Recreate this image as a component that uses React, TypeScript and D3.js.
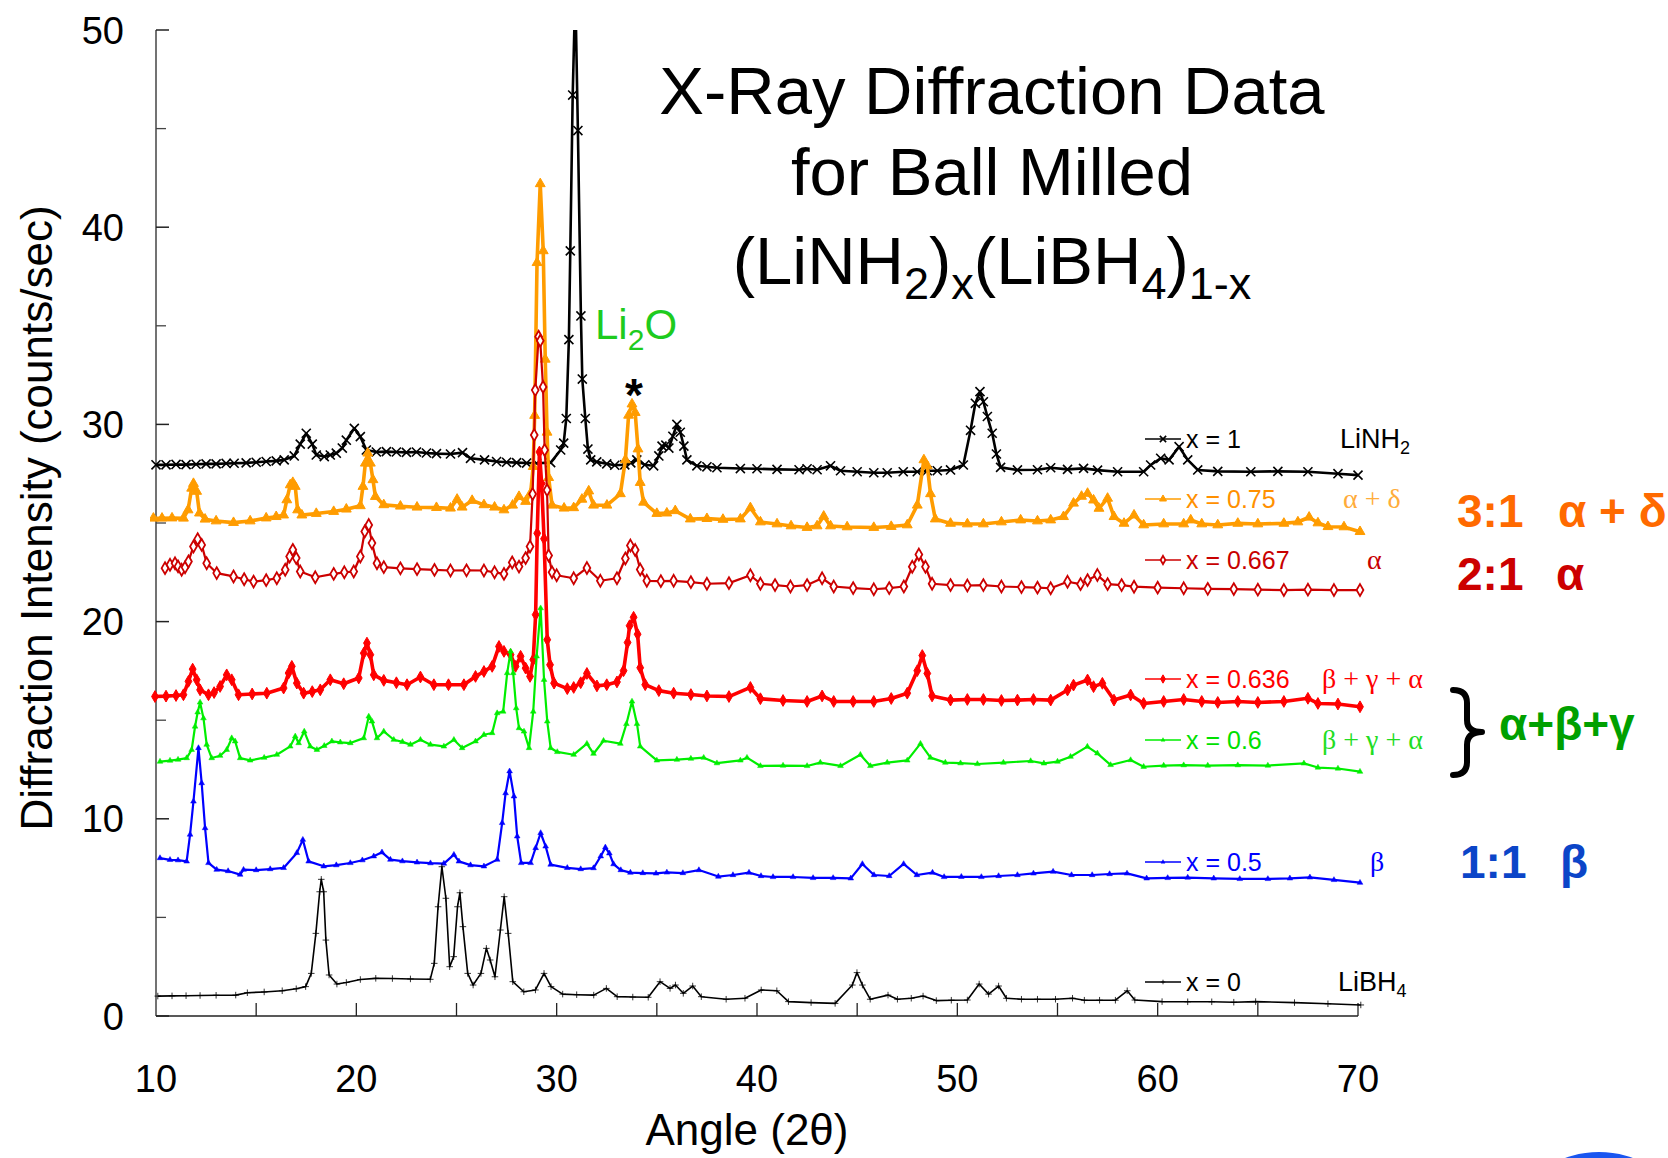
import React from 'react';
import * as d3 from 'd3';

type Pt = [number, number];

// angle (2θ), intensity (counts/sec)
const seriesX100: Pt[] = [[10.0,27.95],[10.5,27.95],[11.0,27.97],[11.5,27.96],[12.0,27.98],[12.5,28.0],[13.0,28.0],[13.5,28.02],[13.9,28.03],[14.5,28.05],[15.0,28.08],[15.5,28.12],[16.0,28.15],[16.4,28.2],[16.9,28.4],[17.2,29.0],[17.5,29.55],[17.8,29.0],[18.0,28.45],[18.4,28.37],[18.7,28.45],[19.0,28.54],[19.3,28.8],[19.5,29.2],[19.9,29.8],[20.2,29.38],[20.5,28.7],[21.0,28.6],[21.5,28.62],[22.0,28.6],[22.5,28.58],[23.0,28.6],[23.5,28.55],[24.0,28.52],[24.7,28.5],[25.3,28.57],[25.7,28.28],[26.4,28.2],[27.0,28.12],[27.5,28.08],[28.0,28.06],[28.5,28.04],[29.0,28.03],[29.7,28.06],[30.2,28.7],[30.35,29.05],[30.48,30.3],[30.61,34.3],[30.68,38.8],[30.8,46.7],[30.93,52.0],[31.06,44.9],[31.21,35.5],[31.28,32.3],[31.43,30.3],[31.56,28.75],[31.7,28.2],[32.0,28.1],[32.5,28.0],[32.9,27.93],[33.4,27.95],[33.7,28.05],[34.0,28.2],[34.4,27.95],[34.84,27.9],[35.1,28.4],[35.26,28.9],[35.45,28.95],[35.6,28.8],[35.8,29.4],[36.0,30.0],[36.17,29.6],[36.35,28.9],[36.5,28.2],[37.0,27.9],[37.5,27.85],[38.0,27.8],[39.17,27.76],[40.0,27.75],[41.0,27.72],[42.1,27.7],[42.5,27.75],[43.0,27.7],[43.67,27.9],[44.17,27.65],[45.0,27.6],[45.83,27.55],[46.5,27.55],[47.3,27.6],[48.0,27.6],[48.5,27.65],[49.0,27.65],[49.66,27.69],[50.3,27.94],[50.66,29.7],[50.9,31.07],[51.13,31.66],[51.3,31.15],[51.5,30.4],[51.74,29.55],[51.95,28.5],[52.16,27.82],[53.0,27.69],[54.0,27.7],[54.66,27.8],[55.5,27.72],[56.3,27.77],[57.0,27.68],[58.0,27.6],[59.3,27.6],[59.65,27.94],[60.15,28.28],[60.57,28.2],[61.07,28.87],[61.5,28.2],[62.0,27.69],[63.0,27.62],[64.65,27.6],[66.0,27.62],[67.5,27.6],[69.0,27.5],[70.0,27.43]];

const seriesX075: Pt[] = [[9.87,25.24],[10.3,25.24],[10.8,25.25],[11.37,25.24],[11.6,25.66],[11.78,26.76],[11.87,27.0],[12.03,26.6],[12.17,25.5],[12.45,25.19],[13.0,25.1],[13.87,25.02],[14.7,25.1],[15.5,25.25],[16.0,25.32],[16.37,25.4],[16.53,26.17],[16.7,26.93],[16.83,27.05],[16.95,26.85],[17.07,25.66],[17.28,25.4],[18.0,25.48],[18.87,25.58],[19.5,25.7],[20.2,25.87],[20.33,26.85],[20.45,28.03],[20.57,28.54],[20.7,28.03],[20.83,27.19],[20.95,26.34],[21.37,25.92],[22.2,25.85],[23.03,25.8],[24.0,25.78],[24.7,25.75],[25.03,26.2],[25.28,25.8],[25.78,26.14],[26.37,25.92],[26.9,25.8],[27.37,25.66],[27.8,25.9],[28.12,26.34],[28.45,26.09],[28.7,26.51],[28.83,27.86],[28.9,30.45],[29.02,38.2],[29.18,42.2],[29.33,38.8],[29.43,33.3],[29.52,29.6],[29.6,27.3],[29.77,25.9],[30.37,25.75],[30.85,25.77],[31.26,26.2],[31.6,26.62],[31.84,25.9],[32.51,25.9],[33.18,26.48],[33.43,28.2],[33.59,30.46],[33.76,31.03],[33.92,30.6],[34.06,28.75],[34.17,27.05],[34.34,26.05],[35.0,25.48],[35.5,25.5],[35.92,25.62],[36.67,25.2],[37.5,25.22],[38.3,25.18],[39.17,25.2],[39.67,25.77],[40.17,25.05],[41.0,24.95],[41.7,24.85],[42.5,24.77],[43.0,24.85],[43.33,25.34],[43.67,24.85],[44.5,24.8],[45.83,24.77],[46.7,24.82],[47.5,24.9],[48.0,25.9],[48.33,28.2],[48.5,27.9],[48.66,26.48],[48.9,25.2],[49.66,24.98],[50.5,24.95],[51.3,24.95],[52.2,25.05],[53.16,25.15],[54.0,25.1],[54.66,25.15],[55.3,25.32],[55.8,26.0],[56.2,26.35],[56.5,26.5],[56.8,26.16],[57.07,25.74],[57.5,26.25],[57.82,25.32],[58.32,24.98],[58.82,25.4],[59.3,24.9],[60.3,24.95],[61.3,24.95],[61.65,25.15],[62.2,24.95],[63.0,24.9],[64.0,24.98],[65.0,24.95],[66.3,24.98],[67.0,25.05],[67.56,25.29],[68.0,25.0],[68.5,24.81],[69.3,24.8],[70.1,24.56]];

const seriesX0667: Pt[] = [[10.45,22.71],[10.7,22.88],[10.95,22.96],[11.1,22.8],[11.28,22.63],[11.45,22.75],[11.62,23.05],[11.87,23.81],[12.08,24.18],[12.28,23.89],[12.53,22.96],[13.03,22.46],[13.87,22.29],[14.4,22.15],[14.87,22.03],[15.5,22.1],[16.03,22.2],[16.45,22.63],[16.67,23.3],[16.83,23.64],[17.0,23.22],[17.2,22.54],[17.95,22.25],[18.87,22.42],[19.4,22.5],[19.87,22.54],[20.2,23.3],[20.42,24.57],[20.62,24.9],[20.78,23.98],[21.03,22.96],[21.37,22.76],[22.2,22.7],[23.03,22.66],[23.9,22.62],[24.7,22.59],[25.5,22.6],[26.37,22.59],[26.9,22.5],[27.37,22.42],[27.78,23.0],[28.12,22.79],[28.45,23.22],[28.67,23.81],[28.8,26.47],[28.88,29.46],[28.93,31.74],[29.1,34.45],[29.18,34.24],[29.32,31.9],[29.4,28.7],[29.52,26.67],[29.6,23.35],[29.77,22.5],[30.0,22.35],[30.85,22.2],[31.51,22.72],[32.18,22.07],[33.01,22.2],[33.43,23.2],[33.68,23.86],[33.92,23.63],[34.17,22.64],[34.5,22.07],[35.2,22.05],[35.84,22.07],[36.7,22.0],[37.5,21.92],[38.6,21.95],[39.67,22.35],[40.17,21.92],[40.9,21.85],[41.67,21.78],[42.5,21.85],[43.25,22.2],[43.83,21.78],[44.8,21.7],[45.83,21.64],[46.6,21.7],[47.33,21.78],[47.75,22.78],[48.08,23.4],[48.41,22.78],[48.74,21.92],[49.66,21.85],[50.5,21.83],[51.3,21.85],[52.2,21.78],[53.2,21.75],[54.0,21.72],[54.66,21.69],[55.5,22.02],[56.15,21.9],[56.5,22.1],[56.99,22.36],[57.5,21.9],[58.2,21.85],[58.82,21.77],[60.0,21.72],[61.3,21.69],[62.5,21.66],[63.8,21.65],[65.0,21.62],[66.3,21.6],[67.5,21.62],[68.8,21.6],[70.1,21.6]];

const seriesX0636: Pt[] = [[9.95,16.2],[10.5,16.22],[11.0,16.25],[11.37,16.29],[11.62,16.97],[11.83,17.59],[12.03,17.05],[12.2,16.54],[12.62,16.29],[12.9,16.4],[13.2,16.71],[13.53,17.3],[13.78,17.05],[14.12,16.29],[14.8,16.33],[15.53,16.37],[16.37,16.63],[16.62,17.39],[16.78,17.73],[17.03,16.88],[17.37,16.37],[17.8,16.45],[18.2,16.54],[18.7,17.05],[19.37,16.85],[20.12,17.14],[20.37,18.4],[20.53,18.91],[20.7,18.32],[20.87,17.3],[21.37,17.02],[22.0,16.9],[22.53,16.8],[23.2,17.19],[23.87,16.8],[24.6,16.8],[25.37,16.8],[25.95,17.22],[26.37,17.47],[26.78,17.73],[27.12,18.74],[27.37,18.49],[27.7,18.32],[27.95,17.73],[28.2,18.24],[28.45,17.64],[28.67,17.22],[28.83,18.07],[28.95,20.35],[29.03,24.48],[29.14,28.6],[29.25,27.0],[29.37,24.2],[29.53,19.08],[29.67,17.81],[29.87,16.88],[30.53,16.6],[30.85,16.66],[31.2,16.9],[31.51,17.37],[32.01,16.74],[32.5,16.8],[33.01,16.94],[33.34,17.51],[33.54,18.94],[33.64,19.79],[33.84,20.22],[34.04,19.36],[34.17,17.66],[34.42,16.8],[35.1,16.5],[35.84,16.37],[36.7,16.3],[37.5,16.23],[38.6,16.2],[39.67,16.66],[40.17,16.09],[41.3,16.0],[42.5,15.95],[43.25,16.23],[43.83,15.95],[44.8,15.95],[45.83,15.95],[46.7,16.1],[47.5,16.37],[48.0,17.51],[48.25,18.28],[48.5,17.37],[48.74,16.23],[49.66,16.02],[50.5,16.05],[51.3,16.05],[52.2,16.0],[53.0,16.02],[53.8,16.05],[54.66,16.02],[55.5,16.53],[55.8,16.78],[56.5,17.04],[56.8,16.7],[57.24,16.87],[57.82,16.02],[58.65,16.28],[59.3,15.85],[60.3,15.95],[61.3,16.05],[62.2,15.95],[63.0,15.9],[64.0,15.95],[65.0,15.9],[66.3,15.95],[67.5,16.11],[68.0,15.85],[69.0,15.82],[70.1,15.68]];

const seriesX060: Pt[] = [[10.2,12.9],[10.7,12.95],[11.1,13.0],[11.53,13.08],[11.78,13.5],[11.95,14.68],[12.08,15.4],[12.2,15.9],[12.37,15.1],[12.53,13.76],[12.78,13.08],[13.2,13.2],[13.53,13.5],[13.78,14.09],[13.95,13.93],[14.2,13.08],[14.7,12.96],[15.4,13.1],[16.03,13.25],[16.7,13.67],[16.95,14.18],[17.12,13.84],[17.4,14.43],[17.7,13.67],[18.03,13.5],[18.4,13.7],[18.78,13.93],[19.2,13.88],[19.7,13.84],[20.37,14.09],[20.62,15.19],[20.78,14.94],[21.03,14.09],[21.37,14.43],[21.87,14.01],[22.3,13.9],[22.7,13.76],[23.2,14.01],[23.7,13.76],[24.37,13.67],[24.87,14.01],[25.28,13.59],[25.95,13.93],[26.37,14.26],[26.78,14.35],[27.03,15.36],[27.33,15.44],[27.53,17.39],[27.7,18.49],[27.83,17.39],[27.98,15.61],[28.12,14.6],[28.37,14.43],[28.62,13.59],[28.83,15.44],[29.0,18.24],[29.2,20.68],[29.37,17.05],[29.53,14.94],[29.7,13.59],[30.03,13.39],[30.85,13.25],[31.51,13.81],[31.84,13.3],[32.34,13.96],[33.18,13.81],[33.48,14.81],[33.76,15.95],[34.01,14.81],[34.17,13.67],[35.0,12.96],[36.0,13.0],[36.7,13.05],[37.34,13.1],[38.0,12.82],[39.17,12.96],[39.5,13.1],[40.17,12.68],[41.3,12.7],[42.5,12.68],[43.16,12.85],[44.17,12.68],[45.16,13.25],[45.66,12.68],[46.5,12.85],[47.5,12.96],[48.16,13.81],[48.66,13.1],[49.4,12.85],[50.16,12.82],[51.0,12.78],[52.3,12.85],[53.66,12.93],[54.32,12.81],[55.0,12.9],[55.65,13.15],[56.49,13.66],[56.99,13.32],[57.65,12.73],[58.65,12.98],[59.3,12.64],[60.3,12.7],[61.3,12.72],[62.5,12.7],[64.0,12.72],[65.5,12.7],[67.3,12.81],[68.0,12.6],[69.0,12.55],[70.1,12.39]];

const seriesX050: Pt[] = [[10.2,8.01],[10.7,7.92],[11.1,7.9],[11.53,7.84],[11.7,9.2],[11.87,10.88],[12.12,13.59],[12.28,11.81],[12.45,9.53],[12.62,7.76],[13.03,7.42],[13.6,7.35],[14.2,7.17],[14.37,7.42],[15.0,7.4],[15.7,7.45],[16.37,7.51],[17.03,8.27],[17.33,8.94],[17.62,7.84],[18.37,7.59],[19.0,7.65],[19.7,7.76],[20.3,7.9],[20.87,8.1],[21.28,8.3],[21.7,7.93],[22.3,7.85],[23.03,7.79],[23.7,7.75],[24.37,7.73],[24.87,8.18],[25.12,7.84],[25.7,7.65],[26.37,7.59],[27.03,7.93],[27.28,9.79],[27.45,11.3],[27.65,12.41],[27.87,11.14],[28.03,9.11],[28.23,7.76],[28.7,7.76],[28.95,8.52],[29.2,9.28],[29.45,8.6],[29.7,7.68],[30.53,7.51],[31.2,7.45],[31.84,7.5],[32.2,8.1],[32.43,8.55],[32.63,8.25],[32.84,7.7],[33.2,7.4],[33.68,7.27],[34.3,7.25],[34.96,7.23],[35.5,7.28],[36.3,7.25],[37.1,7.4],[38.07,7.07],[38.8,7.15],[39.6,7.27],[40.2,7.1],[40.8,7.05],[41.8,7.05],[42.8,7.0],[43.8,7.0],[44.68,6.98],[45.26,7.71],[45.84,7.15],[46.6,7.1],[47.32,7.71],[47.98,7.15],[48.76,7.27],[49.34,7.05],[50.2,7.06],[51.2,7.05],[52.06,7.1],[53.0,7.15],[53.8,7.23],[54.78,7.32],[55.7,7.15],[56.73,7.15],[57.6,7.2],[58.47,7.23],[59.45,6.98],[60.5,7.0],[61.5,7.02],[62.8,6.98],[64.1,6.95],[65.5,6.95],[66.6,6.98],[67.6,7.03],[68.8,6.9],[70.1,6.76]];

const seriesX000: Pt[] = [[10.09,1.01],[10.8,1.02],[11.5,1.03],[12.2,1.04],[13.0,1.05],[13.98,1.06],[14.56,1.18],[15.4,1.22],[16.3,1.28],[17.0,1.38],[17.47,1.49],[17.75,2.16],[17.98,4.19],[18.17,6.3],[18.25,6.93],[18.37,6.3],[18.48,3.85],[18.64,2.08],[19.03,1.62],[19.5,1.7],[20.2,1.85],[20.97,1.91],[21.8,1.9],[22.7,1.88],[23.69,1.86],[23.89,2.67],[24.08,5.54],[24.27,7.57],[24.47,5.97],[24.66,2.5],[24.86,3.01],[25.05,5.54],[25.17,6.25],[25.32,4.53],[25.56,2.16],[25.83,1.57],[26.22,2.16],[26.49,3.43],[26.68,2.84],[26.92,1.99],[27.19,4.36],[27.38,6.05],[27.58,4.19],[27.81,1.74],[28.36,1.23],[28.94,1.32],[29.37,2.16],[29.72,1.49],[30.3,1.11],[31.0,1.08],[31.85,1.06],[32.48,1.4],[33.02,0.98],[33.8,0.96],[34.57,0.95],[35.16,1.74],[35.66,1.4],[35.93,1.57],[36.32,1.15],[36.79,1.52],[37.22,0.98],[38.46,0.85],[39.4,0.9],[40.21,1.32],[40.99,1.28],[41.57,0.73],[42.7,0.68],[43.9,0.64],[44.76,1.57],[44.99,2.2],[45.26,1.57],[45.65,0.85],[46.54,1.06],[47.01,0.85],[47.7,0.9],[48.29,1.01],[48.95,0.78],[49.7,0.8],[50.5,0.81],[51.09,1.62],[51.56,1.11],[52.06,1.52],[52.45,0.9],[53.2,0.85],[54.0,0.85],[54.9,0.85],[55.75,0.9],[56.34,0.8],[57.1,0.8],[57.89,0.8],[58.48,1.28],[58.86,0.81],[60.22,0.73],[61.5,0.72],[62.7,0.72],[63.8,0.7],[64.89,0.73],[66.83,0.68],[68.5,0.62],[70.14,0.56]];

const legendLabels = ['x = 1', 'x = 0.75', 'x = 0.667', 'x = 0.636', 'x = 0.6', 'x = 0.5', 'x = 0'];
const phaseLabels = ['LiNH', 'α + δ', 'α', 'β + γ + α', 'β + γ + α', 'β', 'LiBH'];
const yTicks = [0, 10, 20, 30, 40, 50];
const yMinorTicks = [5, 15, 25, 35, 45];
const xTicks = [10, 20, 30, 40, 50, 60, 70];
const xMinorTicks = [15, 20, 25, 30, 35, 40, 45, 50, 55, 60, 65, 70];

const SANS = '"Liberation Sans", Arial, Helvetica, sans-serif';
const SERIF = '"Liberation Serif", "Times New Roman", serif';

export default function App() {
  const x = d3.scaleLinear().domain([10, 70]).range([156, 1358]);
  const y = d3.scaleLinear().domain([0, 50]).range([1016, 30]);
  const line = d3.line<Pt>().x((d) => x(d[0])).y((d) => y(d[1]));

  const styles = [
    { data: seriesX100, color: '#000000', lw: 2.6, sym: d3.symbolTimes, size: 55, fill: 'none', mstroke: '#000', mw: 1.6, legendY: 439, textColor: '#000', phaseColor: '#000', phaseX: 1340 },
    { data: seriesX075, color: '#FF9C00', lw: 3.6, sym: d3.symbolTriangle, size: 42, fill: '#FF9C00', mstroke: '#FF9C00', mw: 1, legendY: 499, textColor: '#FF9000', phaseColor: '#FFAC3A', phaseX: 1343 },
    { data: seriesX0667, color: '#CC0000', lw: 2.2, sym: d3.symbolDiamond, size: 40, fill: '#ffffff', mstroke: '#CC0000', mw: 1.8, legendY: 560, textColor: '#C80000', phaseColor: '#C80000', phaseX: 1367 },
    { data: seriesX0636, color: '#FF0000', lw: 3.6, sym: d3.symbolDiamond, size: 40, fill: '#FF0000', mstroke: '#FF0000', mw: 1, legendY: 679, textColor: '#FF0000', phaseColor: '#FF0000', phaseX: 1322 },
    { data: seriesX060, color: '#00EE00', lw: 2.2, sym: d3.symbolTriangle, size: 14, fill: '#00EE00', mstroke: '#00EE00', mw: 0.5, legendY: 740, textColor: '#00E000', phaseColor: '#22DD22', phaseX: 1322 },
    { data: seriesX050, color: '#0000FF', lw: 2.2, sym: d3.symbolTriangle, size: 14, fill: '#0000FF', mstroke: '#0000FF', mw: 0.5, legendY: 862, textColor: '#0000FF', phaseColor: '#0000FF', phaseX: 1370 },
    { data: seriesX000, color: '#000000', lw: 1.6, sym: d3.symbolPlus, size: 16, fill: '#000', mstroke: '#000', mw: 0.8, legendY: 982, textColor: '#000', phaseColor: '#000', phaseX: 1338 },
  ];

  const sym = (t: d3.SymbolType, s: number) => d3.symbol().type(t).size(s)() as string;

  return (
    <svg width={1668} height={1158} style={{ position: 'absolute', left: 0, top: 0, background: '#fff' }} fontFamily={SANS}>
      <rect x={0} y={0} width={1668} height={1158} fill="#fff" />
      <defs>
        <clipPath id="plotClip">
          <rect x={150} y={30} width={1220} height={990} />
        </clipPath>
      </defs>

      {/* axes */}
      <line x1={x(10)} x2={x(10)} y1={y(0)} y2={y(50)} stroke="#444" strokeWidth={1.5} />
      <line x1={x(10)} x2={x(70)} y1={y(0)} y2={y(0)} stroke="#222" strokeWidth={1.5} />
      {yTicks.map((t) => (
        <g key={'yt' + t}>
          <line x1={x(10)} x2={x(10) + 13} y1={y(t)} y2={y(t)} stroke="#222" strokeWidth={1.5} />
          <text x={124} y={y(t) + 13.5} textAnchor="end" fontSize={38} fill="#000">{t}</text>
        </g>
      ))}
      {yMinorTicks.map((t) => (
        <line key={'ym' + t} x1={x(10)} x2={x(10) + 10} y1={y(t)} y2={y(t)} stroke="#444" strokeWidth={1.3} />
      ))}
      {xMinorTicks.map((t) => (
        <line key={'xm' + t} x1={x(t)} x2={x(t)} y1={y(0)} y2={y(0) - 13} stroke="#222" strokeWidth={1.3} />
      ))}
      {xTicks.map((t) => (
        <text key={'xt' + t} x={x(t)} y={1092} textAnchor="middle" fontSize={38} fill="#000">{t}</text>
      ))}

      {/* axis titles */}
      <text transform="translate(52,518) rotate(-90)" textAnchor="middle" fontSize={44} fill="#000">Diffraction Intensity (counts/sec)</text>
      <text x={747} y={1145} textAnchor="middle" fontSize={44} fill="#000">Angle (2θ)</text>

      {/* series */}
      <g clipPath="url(#plotClip)">
        {styles.map((s, i) => (
          <g key={'s' + i}>
            <path d={line(s.data) as string} fill="none" stroke={s.color} strokeWidth={s.lw} strokeLinejoin="round" />
            {s.data.map((d, j) => (
              <path key={j} d={sym(s.sym, s.size)} transform={`translate(${x(d[0])},${y(d[1])})`} fill={s.fill} stroke={s.mstroke} strokeWidth={s.mw} />
            ))}
          </g>
        ))}
      </g>

      {/* legend */}
      {styles.map((s, i) => (
        <g key={'lg' + i}>
          <line x1={1145} x2={1181} y1={s.legendY} y2={s.legendY} stroke={s.color} strokeWidth={1.5} />
          <path d={sym(s.sym, s.size * 0.5)} transform={`translate(1163,${s.legendY})`} fill={s.fill} stroke={s.mstroke} strokeWidth={s.mw} />
          <text x={1186} y={s.legendY + 8.5} fontSize={25} fill={s.textColor}>{legendLabels[i]}</text>
          {i === 0 || i === 6 ? (
            <text x={s.phaseX} y={s.legendY + 8.5} fontSize={27} fill={s.phaseColor}>
              {phaseLabels[i]}
              <tspan fontSize={18} dy={6}>{i === 0 ? '2' : '4'}</tspan>
            </text>
          ) : (
            <text x={s.phaseX} y={s.legendY + 9} fontSize={28} fontFamily={SERIF} fill={s.phaseColor}>{phaseLabels[i]}</text>
          )}
        </g>
      ))}

      {/* title */}
      <g fontSize={67} fill="#000" textAnchor="middle">
        <text x={992} y={114}>X-Ray Diffraction Data</text>
        <text x={992} y={195}>for Ball Milled</text>
        <text x={992} y={284}>
          (LiNH<tspan fontSize={45} dy={15}>2</tspan>
          <tspan dy={-15}>)</tspan>
          <tspan fontSize={45} dy={15}>x</tspan>
          <tspan dy={-15}>(LiBH</tspan>
          <tspan fontSize={45} dy={15}>4</tspan>
          <tspan dy={-15}>)</tspan>
          <tspan fontSize={45} dy={15}>1-x</tspan>
        </text>
      </g>

      {/* annotations */}
      <text x={595} y={339} fontSize={42} fill="#1ECB1E">
        Li<tspan fontSize={30} dy={11}>2</tspan><tspan dy={-11}>O</tspan>
      </text>
      <text x={634} y={411} fontSize={46} fontWeight="bold" textAnchor="middle" fill="#000">*</text>

      <g fontSize={46} fontWeight="bold">
        <text x={1457} y={527} fill="#FF6A00">3:1</text>
        <text x={1558} y={527} fill="#FF6A00">α + δ</text>
        <text x={1457} y={590} fill="#CC0000">2:1</text>
        <text x={1556} y={590} fill="#CC0000">α</text>
        <text x={1499} y={740} fill="#00A000">α+β+γ</text>
        <text x={1460} y={878} fill="#0B45C8">1:1</text>
        <text x={1560} y={878} fill="#0B45C8">β</text>
      </g>
      <path d="M1453,690 Q1467,690 1467,703 L1467,720 Q1467,732 1482,732 Q1467,732 1467,745 L1467,762 Q1467,775 1453,775" fill="none" stroke="#000" strokeWidth={6} strokeLinecap="round" strokeLinejoin="round" />

      {/* partial logo at bottom right */}
      <ellipse cx={1599} cy={1200} rx={70} ry={48} fill="#1A56F0" />
    </svg>
  );
}
